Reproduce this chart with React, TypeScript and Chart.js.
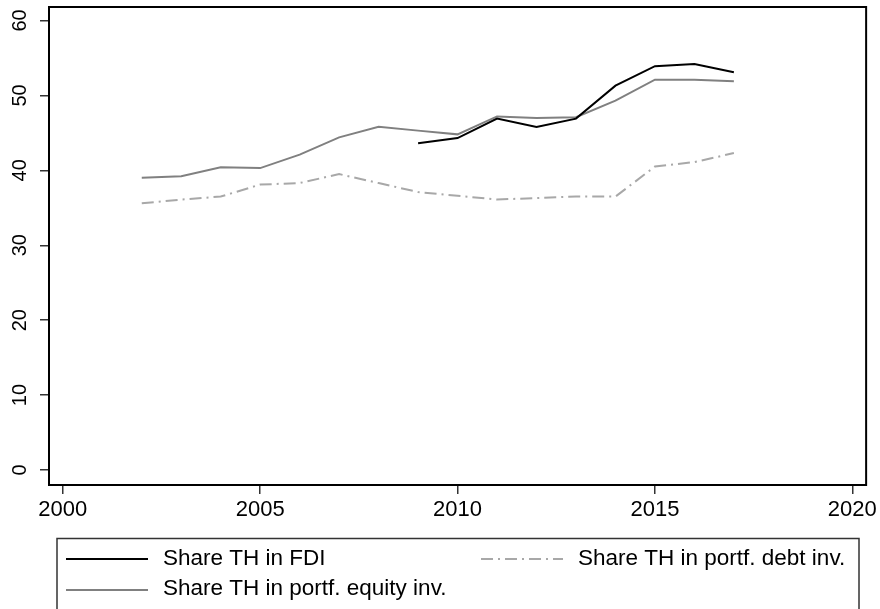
import React, { useEffect, useRef } from "react";
import { Chart, registerables } from "chart.js";

Chart.register(...registerables);

// ---- data ----
const years = [2002, 2003, 2004, 2005, 2006, 2007, 2008, 2009, 2010, 2011, 2012, 2013, 2014, 2015, 2016, 2017];
const fdiShare = [null, null, null, null, null, null, null, 43.6, 44.3, 46.9, 45.8, 46.9, 51.3, 53.9, 54.2, 53.1];
const equityShare = [39.0, 39.2, 40.4, 40.3, 42.1, 44.4, 45.8, 45.3, 44.8, 47.2, 47.0, 47.1, 49.3, 52.1, 52.1, 51.9];
const debtShare = [35.6, 36.1, 36.5, 38.1, 38.3, 39.5, 38.3, 37.1, 36.6, 36.1, 36.3, 36.5, 36.5, 40.5, 41.1, 42.3];
const xTicks = [2000, 2005, 2010, 2015, 2020];
const yTicks = [0, 10, 20, 30, 40, 50, 60];
const seriesLabels = ["Share TH in FDI", "Share TH in portf. equity inv.", "Share TH in portf. debt inv."];

const FONT = '"Liberation Sans", Arial, Helvetica, sans-serif';

export default function App() {
  const ref = useRef<HTMLCanvasElement>(null);

  useEffect(() => {
    document.body.style.margin = "0";
    const canvas = ref.current;
    if (!canvas) return;

    const toPoints = (vals: (number | null)[]) => years.map((yr, i) => ({ x: yr, y: vals[i] }));

    const decorPlugin = {
      id: "decor",
      afterDraw(chart: any) {
        const { ctx, chartArea: a } = chart;
        ctx.save();
        // plot frame
        ctx.strokeStyle = "#000";
        ctx.lineWidth = 2;
        ctx.strokeRect(a.left, a.top, a.right - a.left, a.bottom - a.top);

        // rotated y tick labels
        const ys = chart.scales.y;
        ctx.fillStyle = "#000";
        ctx.font = `20px ${FONT}`;
        ctx.textAlign = "center";
        ctx.textBaseline = "middle";
        ys.ticks.forEach((t: any) => {
          const py = ys.getPixelForValue(t.value);
          ctx.save();
          ctx.translate(19.5, py);
          ctx.rotate(-Math.PI / 2);
          ctx.fillText(String(t.value), 0, 1);
          ctx.restore();
        });

        // legend box
        ctx.strokeStyle = "#333";
        ctx.lineWidth = 1.5;
        ctx.strokeRect(57, 538.5, 802, 100);

        const ds = chart.data.datasets;
        const entries = [
          { d: ds[0], x: 66, y: 559, ty: 559 },
          { d: ds[1], x: 66, y: 590, ty: 589 },
          { d: ds[2], x: 481, y: 559, ty: 559 },
        ];
        entries.forEach((e) => {
          ctx.save();
          ctx.strokeStyle = e.d.borderColor;
          ctx.lineWidth = e.d.borderWidth;
          ctx.setLineDash(e.d.borderDash || []);
          ctx.beginPath();
          ctx.moveTo(e.x, e.y);
          ctx.lineTo(e.x + 82, e.y);
          ctx.stroke();
          ctx.restore();
          ctx.fillStyle = "#000";
          ctx.font = `22.5px ${FONT}`;
          ctx.textAlign = "left";
          ctx.textBaseline = "middle";
          ctx.fillText(e.d.label, e.x + 97, e.ty);
        });
        ctx.restore();
      },
    };

    const chart = new Chart(canvas, {
      type: "line",
      data: {
        datasets: [
          {
            label: seriesLabels[0],
            data: toPoints(fdiShare),
            borderColor: "#000000",
            borderWidth: 2,
            pointRadius: 0,
            tension: 0,
          },
          {
            label: seriesLabels[1],
            data: toPoints(equityShare),
            borderColor: "#808080",
            borderWidth: 2,
            pointRadius: 0,
            tension: 0,
          },
          {
            label: seriesLabels[2],
            data: toPoints(debtShare),
            borderColor: "#a8a8a8",
            borderWidth: 2,
            borderDash: [12, 5, 2, 5],
            pointRadius: 0,
            tension: 0,
          },
        ] as any,
      },
      options: {
        animation: false,
        responsive: false,
        maintainAspectRatio: false,
        layout: { padding: { left: 0, top: 7, right: 13, bottom: 0 } },
        plugins: {
          legend: { display: false },
          tooltip: { enabled: false },
        },
        scales: {
          x: {
            type: "linear",
            min: 1999.65,
            max: 2020.35,
            afterBuildTicks: (s: any) => {
              s.ticks = xTicks.map((v) => ({ value: v }));
            },
            afterFit: (s: any) => {
              s.height = 124;
            },
            ticks: {
              color: "#000",
              font: { family: FONT, size: 22 },
              padding: 3,
              autoSkip: false,
              maxRotation: 0,
              callback: (v: any) => String(v),
            },
            grid: {
              drawOnChartArea: false,
              drawTicks: true,
              tickLength: 9,
              tickColor: "#333",
              tickWidth: 1.5,
              lineWidth: 1.5,
            },
            border: { display: false },
          },
          y: {
            type: "linear",
            min: -2,
            max: 61.8,
            afterBuildTicks: (s: any) => {
              s.ticks = yTicks.map((v) => ({ value: v }));
            },
            afterFit: (s: any) => {
              s.width = 49;
            },
            ticks: { display: false },
            grid: {
              drawOnChartArea: false,
              drawTicks: true,
              tickLength: 9,
              tickColor: "#333",
              tickWidth: 1.5,
              lineWidth: 1.5,
            },
            border: { display: false },
          },
        },
      },
      plugins: [decorPlugin],
    });

    return () => chart.destroy();
  }, []);

  return (
    <div style={{ width: 880, height: 609, background: "#fff" }}>
      <canvas ref={ref} width={880} height={609} style={{ display: "block" }} />
    </div>
  );
}
